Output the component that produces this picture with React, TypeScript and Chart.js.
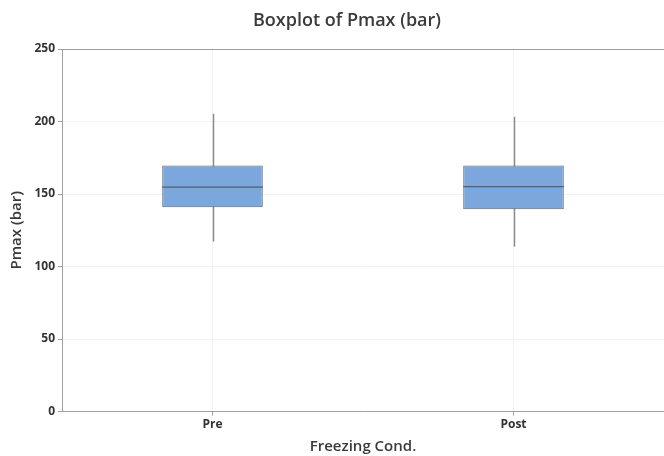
import React, { useEffect, useRef } from "react";
import { Chart, registerables } from "chart.js";

Chart.register(...registerables);

const categories = ["Pre", "Post"];
const q1Values = [140.9, 139.5];
const q3Values = [169.6, 169.6];
const medianValues = [154.7, 155.1];
const whiskerLow = [117.2, 113.7];
const whiskerHigh = [205.3, 203.2];
const yTicks = [0, 50, 100, 150, 200, 250];
const chartTitle = "Boxplot of Pmax (bar)";

const FONT = "'Open Sans', 'Noto Sans', sans-serif";

const boxPlugin = {
  id: "boxExtras",
  beforeDatasetsDraw(chart: any) {
    const ctx = chart.ctx;
    const x = chart.scales.x;
    const y = chart.scales.y;
    ctx.save();
    ctx.strokeStyle = "#8c8c8c";
    ctx.lineWidth = 1.5;
    categories.forEach((_, i) => {
      const cx = Math.round(x.getPixelForValue(i)) + 0.5;
      ctx.beginPath();
      ctx.moveTo(cx, y.getPixelForValue(whiskerLow[i]));
      ctx.lineTo(cx, y.getPixelForValue(whiskerHigh[i]));
      ctx.stroke();
    });
    ctx.restore();
  },
  afterDatasetsDraw(chart: any) {
    const ctx = chart.ctx;
    const y = chart.scales.y;
    const meta = chart.getDatasetMeta(0);
    ctx.save();
    ctx.strokeStyle = "#4f5f74";
    ctx.lineWidth = 1.3;
    meta.data.forEach((bar: any, i: number) => {
      const half = bar.width / 2;
      const py = y.getPixelForValue(medianValues[i]);
      ctx.beginPath();
      ctx.moveTo(bar.x - half, py);
      ctx.lineTo(bar.x + half, py);
      ctx.stroke();
    });
    ctx.restore();
  },
  afterDraw(chart: any) {
    const ctx = chart.ctx;
    const a = chart.chartArea;
    ctx.save();
    ctx.strokeStyle = "#a0a0a0";
    ctx.lineWidth = 1;
    ctx.beginPath();
    ctx.moveTo(a.left, Math.round(a.top) + 0.5);
    ctx.lineTo(chart.width, Math.round(a.top) + 0.5);
    ctx.stroke();
    // chart title
    ctx.fillStyle = "#3a3a3a";
    ctx.font = `600 18px ${FONT}`;
    ctx.textAlign = "center";
    ctx.textBaseline = "middle";
    ctx.fillText(chartTitle, 347, 21);
    ctx.restore();
  },
};

export default function App() {
  const ref = useRef<HTMLCanvasElement | null>(null);
  useEffect(() => {
    document.body.style.margin = "0";
    const chart = new Chart(ref.current as HTMLCanvasElement, {
      type: "bar",
      data: {
        labels: categories,
        datasets: [
          {
            data: categories.map((_, i) => [q1Values[i], q3Values[i]]) as any,
            backgroundColor: "#7ba7dc",
            borderColor: "#5c6470",
            borderWidth: 1,
            borderSkipped: false,
            barPercentage: 0.334,
            categoryPercentage: 1,
          },
        ],
      },
      options: {
        animation: false,
        responsive: false,
        maintainAspectRatio: false,
        layout: { padding: { left: 0, right: 0, top: 49, bottom: 0 } },
        plugins: {
          legend: { display: false },
          tooltip: { enabled: false },
          title: { display: false },
        },
        scales: {
          x: {
            type: "category",
            offset: true,
            grid: {
              offset: false,
              color: "#f2f2f2",
              tickColor: "#a0a0a0",
              tickLength: 4,
              drawTicks: true,
            },
            border: { color: "#a0a0a0", width: 1 },
            ticks: {
              color: "#333333",
              font: { family: FONT, size: 12, weight: "bold" },
              padding: 2,
            },
            title: {
              display: true,
              text: "Freezing Cond.",
              color: "#3a3a3a",
              font: { family: FONT, size: 15, weight: "600" },
              padding: { top: 4, bottom: 0 },
            },
            afterFit(scale: any) {
              scale.height = 44.5;
            },
          },
          y: {
            min: 0,
            max: 250,
            afterBuildTicks(scale: any) {
              scale.ticks = yTicks.map((v) => ({ value: v }));
            },
            grid: {
              color: "#f2f2f2",
              tickColor: "#a0a0a0",
              tickLength: 4,
            },
            border: { color: "#a0a0a0", width: 1 },
            ticks: {
              color: "#333333",
              font: { family: FONT, size: 12, weight: "bold" },
              padding: 3,
            },
            title: {
              display: true,
              text: "Pmax (bar)",
              color: "#3a3a3a",
              font: { family: FONT, size: 15, weight: "600" },
              padding: { top: 8, bottom: 0 },
            },
            afterFit(scale: any) {
              scale.width = 62;
            },
          },
        },
      },
      plugins: [boxPlugin],
    });
    return () => chart.destroy();
  }, []);
  return (
    <div style={{ position: "relative", width: 664, height: 456, background: "#fff" }}>
      <canvas ref={ref} width={664} height={456} />
    </div>
  );
}
